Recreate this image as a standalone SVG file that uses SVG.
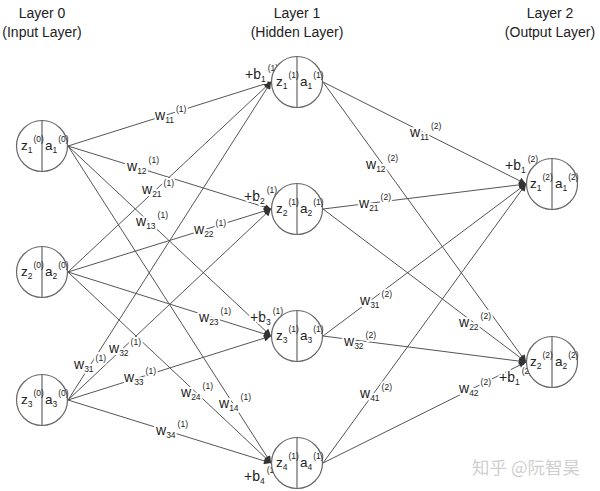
<svg xmlns="http://www.w3.org/2000/svg" width="600" height="491" viewBox="0 0 600 491">
<style>
.t{font-family:"Liberation Sans",Arial,sans-serif;font-size:14px;fill:#222;text-anchor:middle}
.n{font-family:"Liberation Sans",Arial,sans-serif;font-size:13.5px;fill:#222}
.w{font-family:"Liberation Sans",Arial,sans-serif;font-size:14px;fill:#222;stroke:#fff;stroke-width:4;paint-order:stroke;stroke-linejoin:round}
.s{font-size:8.5px}
.c{fill:#fff;stroke:#666;stroke-width:1.2}
.d{stroke:#666;stroke-width:1.2}
.e{stroke:#555;stroke-width:1;fill:none;marker-end:url(#ah)}
.wm{font-family:"Noto Sans CJK SC",sans-serif;font-size:17.5px;fill:#cfcfcf}
</style>
<defs>
<marker id="ah" viewBox="0 0 10 10" refX="10" refY="5" markerWidth="8" markerHeight="7" markerUnits="userSpaceOnUse" orient="auto">
<path d="M0,0 L10,5 L0,10 z" fill="#333"/>
</marker>
</defs>
<rect width="600" height="491" fill="#fff"/>
<g id="titles">
<text class="t" x="42" y="18">Layer 0</text>
<text class="t" x="42" y="37">(Input Layer)</text>
<text class="t" x="297" y="18">Layer 1</text>
<text class="t" x="297" y="37">(Hidden Layer)</text>
<text class="t" x="550" y="18">Layer 2</text>
<text class="t" x="550" y="37">(Output Layer)</text>
</g>
<g id="connectors">
<line class="e" x1="68" y1="146" x2="271" y2="82"/>
<line class="e" x1="68" y1="146" x2="271" y2="209"/>
<line class="e" x1="68" y1="146" x2="271" y2="336"/>
<line class="e" x1="68" y1="146" x2="271" y2="463"/>
<line class="e" x1="68" y1="272" x2="271" y2="82"/>
<line class="e" x1="68" y1="272" x2="271" y2="209"/>
<line class="e" x1="68" y1="272" x2="271" y2="336"/>
<line class="e" x1="68" y1="272" x2="271" y2="463"/>
<line class="e" x1="68" y1="400" x2="271" y2="82"/>
<line class="e" x1="68" y1="400" x2="271" y2="209"/>
<line class="e" x1="68" y1="400" x2="271" y2="336"/>
<line class="e" x1="68" y1="400" x2="271" y2="463"/>
<line class="e" x1="323" y1="82" x2="526" y2="184"/>
<line class="e" x1="323" y1="82" x2="526" y2="362"/>
<line class="e" x1="323" y1="209" x2="526" y2="184"/>
<line class="e" x1="323" y1="209" x2="526" y2="362"/>
<line class="e" x1="323" y1="336" x2="526" y2="184"/>
<line class="e" x1="323" y1="336" x2="526" y2="362"/>
<line class="e" x1="323" y1="463" x2="526" y2="184"/>
<line class="e" x1="323" y1="463" x2="526" y2="362"/>
</g>
<g id="weights">
<text class="w" x="155" y="120">w<tspan class="s" dy="3">11</tspan><tspan class="s" dx="2" dy="-11">(1)</tspan></text>
<text class="w" x="127" y="171">w<tspan class="s" dy="3">12</tspan><tspan class="s" dx="2" dy="-11">(1)</tspan></text>
<text class="w" x="142" y="194">w<tspan class="s" dy="3">21</tspan><tspan class="s" dx="2" dy="-11">(1)</tspan></text>
<text class="w" x="136" y="226">w<tspan class="s" dy="3">13</tspan><tspan class="s" dx="2" dy="-11">(1)</tspan></text>
<text class="w" x="194" y="234">w<tspan class="s" dy="3">22</tspan><tspan class="s" dx="2" dy="-11">(1)</tspan></text>
<text class="w" x="199" y="322">w<tspan class="s" dy="3">23</tspan><tspan class="s" dx="2" dy="-11">(1)</tspan></text>
<text class="w" x="109" y="353">w<tspan class="s" dy="3">32</tspan><tspan class="s" dx="2" dy="-11">(1)</tspan></text>
<text class="w" x="74" y="369">w<tspan class="s" dy="3">31</tspan><tspan class="s" dx="2" dy="-11">(1)</tspan></text>
<text class="w" x="124" y="382">w<tspan class="s" dy="3">33</tspan><tspan class="s" dx="2" dy="-11">(1)</tspan></text>
<text class="w" x="181" y="397">w<tspan class="s" dy="3">24</tspan><tspan class="s" dx="2" dy="-11">(1)</tspan></text>
<text class="w" x="219" y="408">w<tspan class="s" dy="3">14</tspan><tspan class="s" dx="2" dy="-11">(1)</tspan></text>
<text class="w" x="156" y="435">w<tspan class="s" dy="3">34</tspan><tspan class="s" dx="2" dy="-11">(1)</tspan></text>
<text class="w" x="410" y="137">w<tspan class="s" dy="3">11</tspan><tspan class="s" dx="2" dy="-11">(2)</tspan></text>
<text class="w" x="366" y="169">w<tspan class="s" dy="3">12</tspan><tspan class="s" dx="2" dy="-11">(2)</tspan></text>
<text class="w" x="359" y="208">w<tspan class="s" dy="3">21</tspan><tspan class="s" dx="2" dy="-11">(2)</tspan></text>
<text class="w" x="360" y="305">w<tspan class="s" dy="3">31</tspan><tspan class="s" dx="2" dy="-11">(2)</tspan></text>
<text class="w" x="459" y="327">w<tspan class="s" dy="3">22</tspan><tspan class="s" dx="2" dy="-11">(2)</tspan></text>
<text class="w" x="344" y="346">w<tspan class="s" dy="3">32</tspan><tspan class="s" dx="2" dy="-11">(2)</tspan></text>
<text class="w" x="360" y="398">w<tspan class="s" dy="3">41</tspan><tspan class="s" dx="2" dy="-11">(2)</tspan></text>
<text class="w" x="459" y="393">w<tspan class="s" dy="3">42</tspan><tspan class="s" dx="2" dy="-11">(2)</tspan></text>
</g>
<g id="biases">
<text class="w" x="245" y="79">+b<tspan class="s" dy="3">1</tspan><tspan class="s" dx="2" dy="-11">(1)</tspan></text>
<text class="w" x="244" y="201">+b<tspan class="s" dy="3">2</tspan><tspan class="s" dx="2" dy="-11">(1)</tspan></text>
<text class="w" x="250" y="322">+b<tspan class="s" dy="3">3</tspan><tspan class="s" dx="2" dy="-11">(1)</tspan></text>
<text class="w" x="244" y="481">+b<tspan class="s" dy="3">4</tspan><tspan class="s" dx="2" dy="-11">(1)</tspan></text>
<text class="w" x="505" y="170">+b<tspan class="s" dy="3">1</tspan><tspan class="s" dx="2" dy="-11">(2)</tspan></text>
<text class="w" x="499" y="382">+b<tspan class="s" dy="3">1</tspan><tspan class="s" dx="2" dy="-11">(2)</tspan></text>
</g>
<g id="in1">
<circle class="c" cx="42" cy="146" r="25.5"/><line class="d" x1="42" y1="120.5" x2="42" y2="171.5"/>
<text class="n" x="21" y="150">z<tspan class="s" dy="3">1</tspan><tspan class="s" dx="1" dy="-11">(0)</tspan></text>
<text class="n" x="45" y="150">a<tspan class="s" dy="3">1</tspan><tspan class="s" dx="1" dy="-11">(0)</tspan></text>
</g>
<g id="in2">
<circle class="c" cx="42" cy="272" r="25.5"/><line class="d" x1="42" y1="246.5" x2="42" y2="297.5"/>
<text class="n" x="21" y="276">z<tspan class="s" dy="3">2</tspan><tspan class="s" dx="1" dy="-11">(0)</tspan></text>
<text class="n" x="45" y="276">a<tspan class="s" dy="3">2</tspan><tspan class="s" dx="1" dy="-11">(0)</tspan></text>
</g>
<g id="in3">
<circle class="c" cx="42" cy="400" r="25.5"/><line class="d" x1="42" y1="374.5" x2="42" y2="425.5"/>
<text class="n" x="21" y="404">z<tspan class="s" dy="3">3</tspan><tspan class="s" dx="1" dy="-11">(0)</tspan></text>
<text class="n" x="45" y="404">a<tspan class="s" dy="3">3</tspan><tspan class="s" dx="1" dy="-11">(0)</tspan></text>
</g>
<g id="h1">
<circle class="c" cx="297" cy="82" r="25.5"/><line class="d" x1="297" y1="56.5" x2="297" y2="107.5"/>
<text class="n" x="276" y="86">z<tspan class="s" dy="3">1</tspan><tspan class="s" dx="1" dy="-11">(1)</tspan></text>
<text class="n" x="300" y="86">a<tspan class="s" dy="3">1</tspan><tspan class="s" dx="1" dy="-11">(1)</tspan></text>
</g>
<g id="h2">
<circle class="c" cx="297" cy="209" r="25.5"/><line class="d" x1="297" y1="183.5" x2="297" y2="234.5"/>
<text class="n" x="276" y="213">z<tspan class="s" dy="3">2</tspan><tspan class="s" dx="1" dy="-11">(1)</tspan></text>
<text class="n" x="300" y="213">a<tspan class="s" dy="3">2</tspan><tspan class="s" dx="1" dy="-11">(1)</tspan></text>
</g>
<g id="h3">
<circle class="c" cx="297" cy="336" r="25.5"/><line class="d" x1="297" y1="310.5" x2="297" y2="361.5"/>
<text class="n" x="276" y="340">z<tspan class="s" dy="3">3</tspan><tspan class="s" dx="1" dy="-11">(1)</tspan></text>
<text class="n" x="300" y="340">a<tspan class="s" dy="3">3</tspan><tspan class="s" dx="1" dy="-11">(1)</tspan></text>
</g>
<g id="h4">
<circle class="c" cx="297" cy="463" r="25.5"/><line class="d" x1="297" y1="437.5" x2="297" y2="488.5"/>
<text class="n" x="276" y="467">z<tspan class="s" dy="3">4</tspan><tspan class="s" dx="1" dy="-11">(1)</tspan></text>
<text class="n" x="300" y="467">a<tspan class="s" dy="3">4</tspan><tspan class="s" dx="1" dy="-11">(1)</tspan></text>
</g>
<g id="o1">
<circle class="c" cx="552" cy="184" r="25.5"/><line class="d" x1="552" y1="158.5" x2="552" y2="209.5"/>
<text class="n" x="530" y="188">z<tspan class="s" dy="3">1</tspan><tspan class="s" dx="1" dy="-11">(2)</tspan></text>
<text class="n" x="555" y="188">a<tspan class="s" dy="3">1</tspan><tspan class="s" dx="1" dy="-11">(2)</tspan></text>
</g>
<g id="o2">
<circle class="c" cx="552" cy="362" r="25.5"/><line class="d" x1="552" y1="336.5" x2="552" y2="387.5"/>
<text class="n" x="530" y="366">z<tspan class="s" dy="3">2</tspan><tspan class="s" dx="1" dy="-11">(2)</tspan></text>
<text class="n" x="555" y="366">a<tspan class="s" dy="3">2</tspan><tspan class="s" dx="1" dy="-11">(2)</tspan></text>
</g>
<text class="wm" x="472" y="474">知乎 @阮智昊</text>
</svg>
